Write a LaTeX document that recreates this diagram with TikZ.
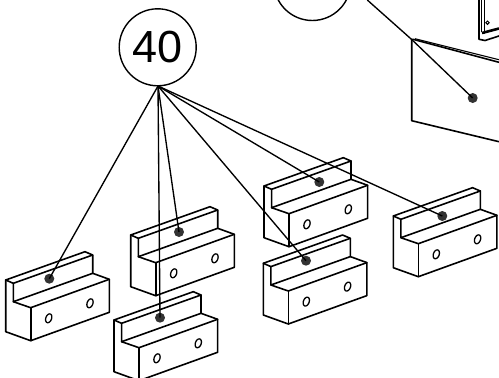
\documentclass[tikz,border=0pt]{standalone}
\usepackage{fontspec}
\setmainfont{Liberation Sans}
\tikzset{
  x=1pt,y=-1pt,
  ink/.style={line width=1.6pt,line join=round,line cap=round},
  holeline/.style={line width=1.3pt},
  leader/.style={line width=1.35pt},
  dotmark/.style={circle,fill=black!80,inner sep=0pt,minimum size=10pt},
  callout/.style={circle,draw,line width=1.4pt,fill=white,minimum size=77pt,inner sep=0pt,font=\fontsize{45}{45}\selectfont},
}
\newcommand{\holemark}[2]{%
  \draw[holeline] plot[domain=0:345,samples=24,smooth cycle] ({#1+1.6*cos(\x)+2.7*sin(\x)},{#2-4.3*cos(\x)+1.0*sin(\x)});}
\newcommand{\bracketblock}[2]{%
  \begin{scope}[shift={(#1,#2)}]
    \fill[white] (0,0)--(79.3,-28.3)--(87,-25)--(87,-6.7)--(103.6,-0.7)--(103.6,32.3)--(25,60.7)--(0,51.7)--cycle;
    \draw[ink] (0,0)--(79.3,-28.3)--(87,-25)--(87,-6.7)--(103.6,-0.7)--(103.6,32.3)--(25,60.7)--(0,51.7)--cycle;
    \draw[ink] (0,0)--(7.6,3.3)--(87,-25);
    \draw[ink] (7.6,3.3)--(7.6,21.7)--(87,-6.7);
    \draw[ink] (7.6,21.7)--(25,27.7)--(103.6,-0.7);
    \draw[ink] (25,27.7)--(25,60.7);
    \holemark{43}{38.3}
    \holemark{84.3}{23.3}
  \end{scope}}
\begin{document}
\begin{tikzpicture}
\useasboundingbox (0,0) rectangle (499,378);
\clip (0,0) rectangle (499,378);
\fill[white] (0,0) rectangle (499,378);
% panel
\coordinate (pa) at (411.7,39.5);
\draw[ink] (499,62.3)--(413,39.3)--(411.7,39.5)--(411.7,120.7)--(499,141.7);
\draw[line width=1.1pt] (415,38.7)--(499,59.7);
% upper right fragment
\draw[ink] (479,0)--(479,39.3)--(485,40.5)--(499,36);
\draw[line width=1.1pt] (481.5,0)--(481.5,32);
\draw[ink] (484.5,0)--(484.5,33);
\draw[line width=2.6pt] (482,33)--(499,28.5);
\draw[line width=1pt] (487.5,22.7) circle (1.7);
% blocks
\bracketblock{130.7}{235}
\bracketblock{5.7}{280}
\bracketblock{114}{320}
\bracketblock{264}{186}
\bracketblock{263.3}{263.3}
\bracketblock{393.3}{216}
% callouts
\node[callout] (c40) at (157.7,47.3) {40};
\node[callout] (ctop) at (312.3,-18) {};
\coordinate (hub) at (158,86);
\coordinate (free) at (367.3,0);
% dots
\node[dotmark] (d1) at (49.3,278.7) {};
\node[dotmark] (d2) at (179,232) {};
\node[dotmark] (d3) at (160,317.7) {};
\node[dotmark] (d4) at (319.3,182) {};
\node[dotmark] (d5) at (306,260.7) {};
\node[dotmark] (d6) at (442.3,216) {};
\node[dotmark] (d7) at (472.7,98) {};
% leaders
\foreach \t in {d1,d2,d3,d4,d5,d6} \draw[leader] (hub) -- (\t.center);
\draw[leader] (free) -- (pa) -- (d7.center);
\end{tikzpicture}
\end{document}
